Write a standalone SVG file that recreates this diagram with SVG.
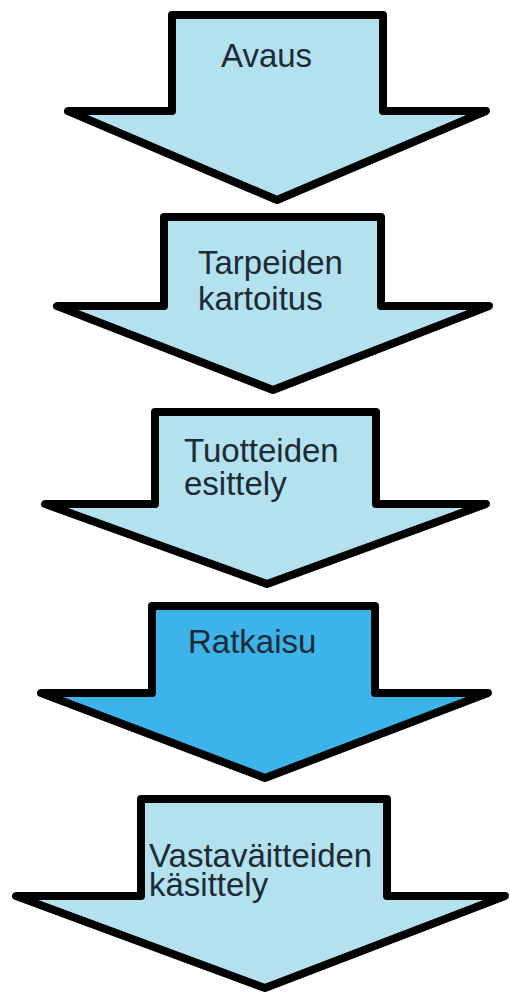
<svg xmlns="http://www.w3.org/2000/svg" width="510" height="993" viewBox="0 0 510 993">
<style>
.arr{stroke:#000;stroke-width:8;stroke-linejoin:round}
.light{fill:#b3e1ee}
.dark{fill:#3cb4e9}
.t{font-family:"Liberation Sans",Arial,sans-serif;font-size:33px;fill:#1c2b36}
</style>
<rect width="510" height="993" fill="#fff"/>
<g id="connectors"></g>
<g id="n1">
<polygon class="arr light" points="172,15 383,15 383,111 486,111 277,200 68,111 172,111"/>
<text class="t" x="221" y="67">Avaus</text>
</g>
<g id="n2">
<polygon class="arr light" points="164,217 381,217 381,306 489,306 273,390 57,306 164,306"/>
<text class="t" x="198" y="274">Tarpeiden</text>
<text class="t" x="198" y="310">kartoitus</text>
</g>
<g id="n3">
<polygon class="arr light" points="155,412 376,412 376,504 486,504 267,584 45,504 155,504"/>
<text class="t" x="184" y="462">Tuotteiden</text>
<text class="t" x="184" y="495">esittely</text>
</g>
<g id="n4">
<polygon class="arr dark" points="152,606 375,606 375,693 488,693 265,778 41,693 152,693"/>
<text class="t" x="188" y="653">Ratkaisu</text>
</g>
<g id="n5">
<polygon class="arr light" points="141,799 387,799 387,896 505,896 265,988 16,896 141,896"/>
<text class="t" x="149" y="867">Vastaväitteiden</text>
<text class="t" x="149" y="896">käsittely</text>
</g>
</svg>
